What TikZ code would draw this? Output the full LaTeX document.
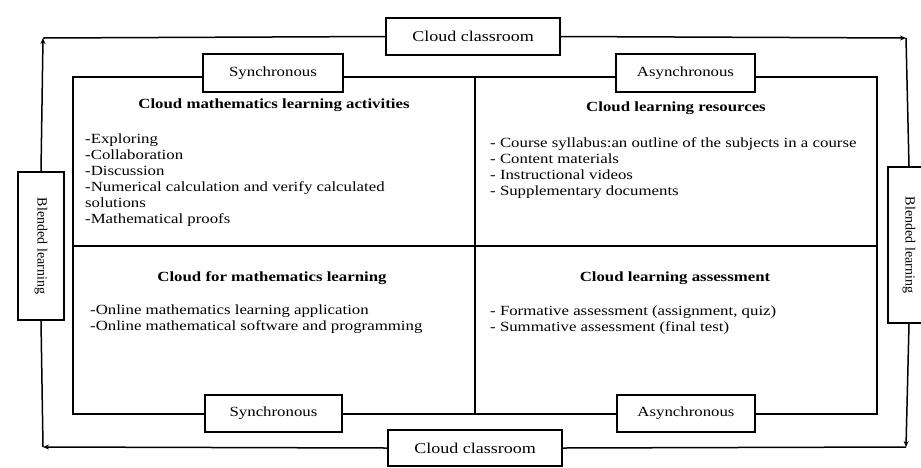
\documentclass[tikz,border=0pt]{standalone}
\usepackage{fontspec}
\setmainfont{Liberation Serif}[FakeStretch=1.2]
\newfontfamily\plainserif{Liberation Serif}
\usetikzlibrary{arrows.meta}
\tikzset{
  gridline/.style={line width=2pt, line cap=rect},
  frameline/.style={line width=1.5pt, -{Stealth[length=6pt,width=5pt]}},
  framenoarrow/.style={line width=1.5pt},
  labelbox/.style={draw, line width=2pt, fill=white, inner sep=0pt, align=center},
  quadtitle/.style={font=\fontsize{14}{16}\selectfont\bfseries, inner sep=0pt, anchor=center},
  quadlist/.style={font=\fontsize{14}{16}\selectfont, inner sep=0pt, anchor=north west, align=left},
}
\begin{document}
\begin{tikzpicture}[x=1pt, y=-1pt]
\useasboundingbox (0,0) rectangle (921,467);
\clip (0,0) rectangle (921,467);
\fill[white] (0,0) rectangle (921,467);
% outer frame corners
\coordinate (tl) at (43,38);
\coordinate (tr) at (906,38);
\coordinate (br) at (906,447);
\coordinate (bl) at (43,447);
% grid corners
\coordinate (g1) at (73,77);
\coordinate (g2) at (877,414);
\coordinate (gmt) at (475,77);
\coordinate (gmb) at (475,414);
\coordinate (gml) at (73,246);
\coordinate (gmr) at (877,246);
% label boxes
\node[labelbox, minimum width=174pt, minimum height=37pt, font=\fontsize{15}{16}\selectfont] (cctop) at (473,36.5) {Cloud classroom};
\node[labelbox, minimum width=174pt, minimum height=36pt, font=\fontsize{15}{16}\selectfont] (ccbot) at (475,448) {Cloud classroom};
\node[labelbox, minimum width=46pt, minimum height=148pt] (blendL) at (41,246) {};
\node[labelbox, minimum width=42pt, minimum height=156pt] (blendR) at (909,245) {};
% frame connectors
\draw[framenoarrow] (tl) -- (cctop.west);
\draw[frameline] (cctop.east) -- (tr);
\draw[framenoarrow] (tr) -- (blendR.north);
\draw[frameline] (blendR.south) -- (br);
\draw[framenoarrow] (br) -- (ccbot.east);
\draw[frameline] (ccbot.west) -- (bl);
\draw[framenoarrow] (bl) -- (blendL.south);
\draw[frameline] (blendL.north) -- (tl);
% redraw boxes above frame lines
\node[labelbox, minimum width=174pt, minimum height=37pt, font=\fontsize{15}{16}\selectfont] at (cctop) {Cloud classroom};
\node[labelbox, minimum width=174pt, minimum height=36pt, font=\fontsize{15}{16}\selectfont] at (ccbot) {Cloud classroom};
\node[labelbox, minimum width=46pt, minimum height=148pt] at (blendL) {};
\node[labelbox, minimum width=42pt, minimum height=156pt] at (blendR) {};
\node[rotate=-90, inner sep=0pt, font=\plainserif\fontsize{14}{16}\selectfont] (blendLt) at (blendL) {Blended learning};
\node[rotate=-90, inner sep=0pt, font=\plainserif\fontsize{14}{16}\selectfont] (blendRt) at (909,245) {Blended learning};
% grid
\draw[gridline] (g1) rectangle (g2);
\draw[gridline] (gmt) -- (gmb);
\draw[gridline] (gml) -- (gmr);
% synchronous / asynchronous boxes
\node[labelbox, minimum width=140pt, minimum height=38pt, font=\fontsize{14}{16}\selectfont] (synctop) at (273,73) {Synchronous};
\node[labelbox, minimum width=139pt, minimum height=38pt, font=\fontsize{14}{16}\selectfont] (asynctop) at (685.5,73) {Asynchronous};
\node[labelbox, minimum width=137pt, minimum height=37pt, font=\fontsize{14}{16}\selectfont] (syncbot) at (273.5,413.5) {Synchronous};
\node[labelbox, minimum width=138pt, minimum height=37pt, font=\fontsize{14}{16}\selectfont] (asyncbot) at (686,413.5) {Asynchronous};
% quadrant titles
\node[quadtitle] (t1) at (274,105) {Cloud mathematics learning activities};
\node[quadtitle] (t2) at (676,108) {Cloud learning resources};
\node[quadtitle] (t3) at (272,278) {Cloud for mathematics learning};
\node[quadtitle] (t4) at (675,278) {Cloud learning assessment};
% quadrant lists
\node[quadlist] (l1) at (85,134) {-Exploring\\ -Collaboration\\ -Discussion\\ -Numerical calculation and verify calculated\\ solutions\\ -Mathematical proofs};
\node[quadlist] (l2) at (490,137) {- Course syllabus:an outline of the subjects in a course\\ - Content materials\\ - Instructional videos\\ - Supplementary documents};
\node[quadlist] (l3) at (90,305) {-Online mathematics learning application\\ -Online mathematical software and programming};
\node[quadlist] (l4) at (490,306) {- Formative assessment  (assignment, quiz)\\ - Summative assessment  (final test)};
\end{tikzpicture}
\end{document}
